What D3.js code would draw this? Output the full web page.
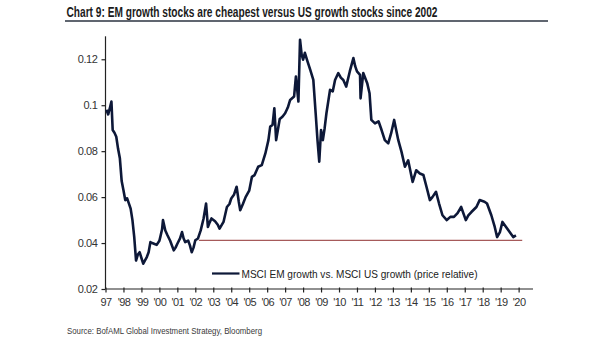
<!DOCTYPE html>
<html>
<head>
<meta charset="utf-8">
<script src="https://cdn.jsdelivr.net/npm/d3@7"></script>
<style>
  html, body { margin: 0; padding: 0; background: #ffffff; }
  svg { display: block; }
</style>
</head>
<body>
<svg id="chart" width="605" height="341"></svg>
<script>
// ---- Data ----
const titleText = "Chart 9: EM growth stocks are cheapest versus US growth stocks since 2002";
const sourceText = "Source: BofAML Global Investment Strategy, Bloomberg";
const seriesName = "MSCI EM growth vs. MSCI US growth (price relative)";

const dates = [
  1997.05, 1997.15, 1997.25, 1997.33, 1997.4, 1997.5, 1997.6, 1997.7, 1997.8, 1997.9,
  1998.0, 1998.1, 1998.2, 1998.3, 1998.4, 1998.5, 1998.6, 1998.7, 1998.8, 1998.9,
  1999.0, 1999.1, 1999.2, 1999.3, 1999.4, 1999.5, 1999.6, 1999.7, 1999.85, 2000.0,
  2000.05, 2000.15, 2000.2, 2000.33, 2000.45, 2000.6, 2000.8, 2000.9, 2001.0, 2001.15,
  2001.26, 2001.35, 2001.44, 2001.6, 2001.7, 2001.8, 2001.9, 2002.0, 2002.15, 2002.3,
  2002.46, 2002.6, 2002.7, 2002.8, 2002.9, 2003.1, 2003.25, 2003.35, 2003.57, 2003.76,
  2003.9, 2004.0, 2004.15, 2004.3, 2004.42, 2004.5, 2004.65, 2004.8, 2005.0, 2005.15,
  2005.3, 2005.5, 2005.7, 2005.9, 2006.07, 2006.17, 2006.3, 2006.4, 2006.5, 2006.7,
  2006.85, 2007.0, 2007.15, 2007.28, 2007.5, 2007.6, 2007.74, 2007.83, 2007.92, 2008.0,
  2008.1, 2008.25, 2008.4, 2008.57, 2008.7, 2008.8, 2008.9, 2009.0, 2009.1, 2009.2,
  2009.3, 2009.5, 2009.65, 2009.78, 2009.96, 2010.1, 2010.24, 2010.4, 2010.6, 2010.8,
  2010.9, 2011.0, 2011.17, 2011.2, 2011.35, 2011.57, 2011.7, 2011.8, 2012.0, 2012.2,
  2012.37, 2012.55, 2012.74, 2012.9, 2013.07, 2013.3, 2013.48, 2013.67, 2013.85, 2014.1,
  2014.3, 2014.5, 2014.7, 2014.87, 2015.06, 2015.2, 2015.4, 2015.57, 2015.76, 2016.0,
  2016.2, 2016.4, 2016.6, 2016.8, 2017.06, 2017.2, 2017.37, 2017.65, 2017.83, 2018.1,
  2018.24, 2018.48, 2018.67, 2018.8, 2018.96, 2019.1, 2019.3, 2019.5, 2019.7, 2019.85
];
const ratio = [
  0.098, 0.096, 0.099, 0.1016, 0.0892, 0.088, 0.0863, 0.081, 0.0769, 0.067,
  0.063, 0.0587, 0.0595, 0.0573, 0.055, 0.05, 0.0426, 0.0324, 0.035, 0.036,
  0.0335, 0.031, 0.0325, 0.0339, 0.036, 0.0404, 0.04, 0.0397, 0.0392, 0.041,
  0.0426, 0.046, 0.05, 0.0455, 0.0434, 0.041, 0.0368, 0.038, 0.0397, 0.042,
  0.0448, 0.042, 0.0404, 0.0411, 0.039, 0.036, 0.038, 0.0412, 0.042, 0.0455,
  0.0507, 0.0572, 0.047, 0.049, 0.0507, 0.0495, 0.048, 0.0463, 0.0492, 0.0557,
  0.057, 0.0594, 0.061, 0.0645, 0.058, 0.0543, 0.057, 0.06, 0.0628, 0.0688,
  0.0696, 0.0732, 0.0739, 0.079, 0.0848, 0.0907, 0.0914, 0.0987, 0.0848, 0.094,
  0.095, 0.0965, 0.099, 0.1023, 0.1038, 0.1125, 0.1016, 0.1285, 0.122, 0.1198,
  0.1228, 0.119, 0.1154, 0.111, 0.0965, 0.085, 0.0754, 0.0892, 0.0848, 0.09,
  0.0965, 0.1067, 0.106, 0.111, 0.114, 0.112, 0.111, 0.1081, 0.1147, 0.1205,
  0.117, 0.1147, 0.1132, 0.103, 0.114, 0.1096, 0.1052, 0.0936, 0.0921, 0.093,
  0.0892, 0.0848, 0.0834, 0.0877, 0.0936, 0.0848, 0.0797, 0.0732, 0.076, 0.0666,
  0.0717, 0.0703, 0.0696, 0.0645, 0.0587, 0.06, 0.0623, 0.0572, 0.0521, 0.05,
  0.0514, 0.0514, 0.053, 0.0557, 0.05, 0.052, 0.0535, 0.0557, 0.0587, 0.058,
  0.0572, 0.0521, 0.047, 0.0426, 0.0448, 0.0492, 0.047, 0.0448, 0.0426, 0.0433
];

const xTickYears = [1997, 1998, 1999, 2000, 2001, 2002, 2003, 2004, 2005, 2006, 2007, 2008,
                    2009, 2010, 2011, 2012, 2013, 2014, 2015, 2016, 2017, 2018, 2019, 2020];
const xTickLabels = ["97", "'98", "'99", "'00", "'01", "'02", "'03", "'04", "'05", "'06", "'07", "'08",
                     "'09", "'10", "'11", "'12", "'13", "'14", "'15", "'16", "'17", "'18", "'19", "'20"];
const yTickValues = [0.02, 0.04, 0.06, 0.08, 0.1, 0.12];
const yTickLabels = ["0.02", "0.04", "0.06", "0.08", "0.1", "0.12"];

// horizontal reference line (current low level)
const refLevel = [0.0412];
const refSpan = [2002.2, 2020.2];

// ---- Drawing ----
const svg = d3.select("#chart");

const x = d3.scaleLinear().domain([1997, 2020.8]).range([105.5, 533]);
const y = d3.scaleLinear().domain([0.02, 0.13]).range([289, 36.3]);

// Title
svg.append("text")
  .attr("x", 66.5).attr("y", 17)
  .attr("font-family", "'Liberation Sans Narrow', 'Liberation Sans', Arial, sans-serif")
  .attr("font-weight", "bold")
  .attr("font-size", 14)
  .attr("fill", "#1b1b1b")
  .attr("textLength", 371)
  .attr("lengthAdjust", "spacingAndGlyphs")
  .text(titleText);

svg.append("line")
  .attr("x1", 65).attr("x2", 548)
  .attr("y1", 21).attr("y2", 21)
  .attr("stroke", "#2b3340").attr("stroke-width", 1.3);

// Y axis
const yAxis = d3.axisLeft(y)
  .tickValues(yTickValues)
  .tickFormat((d, i) => yTickLabels[i])
  .tickSizeInner(4)
  .tickSizeOuter(0)
  .tickPadding(4);

const gy = svg.append("g")
  .attr("transform", `translate(${x(1997)},0)`)
  .call(yAxis);
gy.select(".domain").remove();
gy.append("line")
  .attr("x1", 0).attr("x2", 0)
  .attr("y1", y(0.13)).attr("y2", y(0.02))
  .attr("stroke", "#222").attr("stroke-width", 1.2);
gy.selectAll(".tick line").attr("stroke", "#222").attr("stroke-width", 1.2);
gy.selectAll(".tick text")
  .attr("font-family", "'Liberation Sans', Arial, sans-serif")
  .attr("font-size", 11)
  .attr("letter-spacing", -0.4)
  .attr("fill", "#333");

// X axis
const xAxis = d3.axisBottom(x)
  .tickValues(xTickYears)
  .tickFormat((d, i) => xTickLabels[i])
  .tickSizeInner(3.5)
  .tickSizeOuter(0)
  .tickPadding(6);

const gx = svg.append("g")
  .attr("transform", `translate(0,${y(0.02)})`)
  .call(xAxis);
gx.select(".domain").remove();
gx.append("line")
  .attr("x1", x(1997)).attr("x2", x(2020.8))
  .attr("y1", 0).attr("y2", 0)
  .attr("stroke", "#222").attr("stroke-width", 1.2);
gx.selectAll(".tick line")
  .attr("y1", -1.5)
  .attr("stroke", "#222").attr("stroke-width", 1.2);
gx.selectAll(".tick text")
  .attr("font-family", "'Liberation Sans', Arial, sans-serif")
  .attr("font-size", 11)
  .attr("letter-spacing", -0.6)
  .attr("fill", "#333");

// Reference line
svg.append("line")
  .attr("x1", x(refSpan[0])).attr("x2", x(refSpan[1]))
  .attr("y1", y(refLevel[0])).attr("y2", y(refLevel[0]))
  .attr("stroke", "#a65a5a").attr("stroke-width", 1.2);

// Series line
const data = dates.map((d, i) => ({ t: d, v: ratio[i] }));
const line = d3.line().x(d => x(d.t)).y(d => y(d.v));
svg.append("path")
  .datum(data)
  .attr("d", line)
  .attr("fill", "none")
  .attr("stroke", "#0d1838")
  .attr("stroke-width", 2.6)
  .attr("stroke-linejoin", "round");

// Legend
svg.append("line")
  .attr("x1", 212).attr("x2", 239.5)
  .attr("y1", 273.5).attr("y2", 273.5)
  .attr("stroke", "#0d1838").attr("stroke-width", 2.2);
svg.append("text")
  .attr("x", 241.5).attr("y", 277.5)
  .attr("font-family", "'Liberation Sans', Arial, sans-serif")
  .attr("font-size", 11)
  .attr("fill", "#222")
  .attr("textLength", 236)
  .attr("lengthAdjust", "spacingAndGlyphs")
  .text(seriesName);

// Source
svg.append("text")
  .attr("x", 67).attr("y", 333.5)
  .attr("font-family", "'Liberation Sans Narrow', 'Liberation Sans', Arial, sans-serif")
  .attr("font-size", 9)
  .attr("fill", "#3a3a3a")
  .attr("textLength", 195)
  .attr("lengthAdjust", "spacingAndGlyphs")
  .text(sourceText);
</script>
</body>
</html>
